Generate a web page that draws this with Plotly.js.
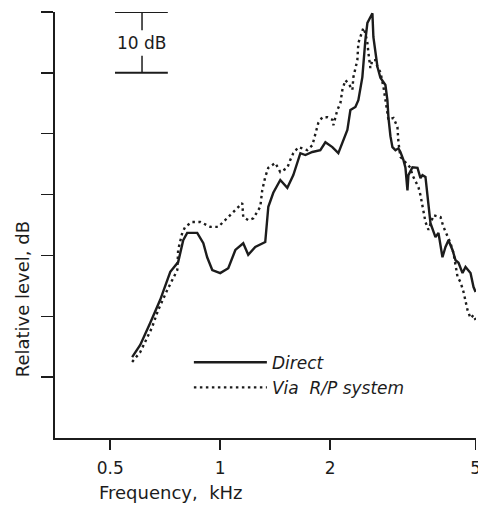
<!DOCTYPE html>
<html>
<head>
<meta charset="utf-8">
<script src="https://cdn.plot.ly/plotly-3.0.1.min.js"></script>
<style>html,body{margin:0;padding:0;background:#fff;}#chart{width:478px;height:507px;}</style>
</head>
<body>
<div id="chart"></div>
<script>
// Frequency (kHz) and relative level (dB)
const directFreq = [0.574,0.604,0.643,0.685,0.730,0.767,0.792,0.812,0.865,0.899,0.921,0.951,1.000,1.052,1.100,1.156,1.193,1.247,1.328,1.354,1.397,1.460,1.526,1.585,1.657,1.710,1.787,1.879,1.940,2.027,2.105,2.228,2.271,2.344,2.388,2.449,2.496,2.528,2.609,2.625,2.693,2.744,2.832,2.868,2.886,2.923,2.960,3.017,3.074,3.113,3.172,3.213,3.254,3.274,3.358,3.466,3.532,3.577,3.645,3.692,3.715,3.762,3.882,3.956,4.057,4.135,4.214,4.322,4.405,4.489,4.604,4.692,4.842,4.934,5.0];
const directLevel = [13.3,15.3,18.9,22.7,27.3,28.9,32.5,33.7,33.7,32.0,29.7,27.6,27.1,27.9,30.9,32.0,30.1,31.4,32.2,38.0,40.3,42.4,41.1,43.2,46.8,46.5,47.0,47.3,48.6,47.8,46.8,50.6,53.9,54.4,55.5,59.3,65.4,68.2,69.8,65.9,61.0,59.2,58.0,55.5,52.7,49.6,47.8,47.3,47.6,47.0,45.7,44.4,40.7,43.2,44.5,44.4,42.7,43.2,42.9,40.4,38.3,35.3,33.0,33.7,29.7,31.4,32.5,30.9,29.2,28.8,27.1,28.1,27.1,24.8,24.0];

const viaFreq = [0.574,0.604,0.651,0.676,0.716,0.763,0.767,0.787,0.802,0.838,0.882,0.939,0.988,1.045,1.100,1.149,1.156,1.193,1.232,1.287,1.303,1.328,1.354,1.415,1.460,1.526,1.555,1.585,1.636,1.731,1.787,1.821,1.856,1.903,1.965,2.027,2.040,2.092,2.132,2.159,2.200,2.242,2.300,2.314,2.373,2.388,2.449,2.465,2.496,2.528,2.544,2.576,2.609,2.659,2.693,2.744,2.797,2.832,2.868,2.886,2.979,3.055,3.074,3.113,3.213,3.316,3.358,3.422,3.488,3.532,3.577,3.645,3.715,3.834,4.007,4.083,4.268,4.349,4.461,4.546,4.633,4.752,4.842,4.934,4.997];
const viaLevel = [12.5,14.1,18.2,21.0,24.3,27.6,30.9,33.7,34.7,35.5,35.5,34.7,34.7,36.1,37.5,38.6,36.3,35.8,36.1,38.0,40.7,42.9,44.4,45.2,43.7,44.4,45.7,46.8,47.8,47.3,48.1,49.8,51.8,52.7,52.7,52.3,51.4,53.9,55.0,57.2,58.8,58.3,57.2,59.3,62.1,64.9,66.7,67.4,66.5,64.9,63.3,60.8,62.1,62.1,61.0,60.1,57.7,55.5,53.4,52.3,52.6,51.1,48.6,46.2,45.3,44.4,43.2,42.1,41.2,39.9,38.3,35.5,34.2,36.6,36.3,34.7,32.0,30.4,26.5,25.6,24.0,21.0,19.7,20.2,19.4];

const seriesNames = ["Direct", "Via  R/P system"];
const xTickVals = [0.5, 1, 2, 5];
const xTickText = ["0.5", "1", "2", "5"];
const yTickVals = [10, 20, 30, 40, 50, 60, 70];
const scaleBarDb = [60, 70];

const ink = "#1c1c1c";
const fontFam = "DejaVu Sans, sans-serif";

const traces = [
  {x: directFreq, y: directLevel, name: seriesNames[0], type: "scatter", mode: "lines",
   line: {color: ink, width: 2.4}},
  {x: viaFreq, y: viaLevel, name: seriesNames[1], type: "scatter", mode: "lines",
   line: {color: ink, width: 2.4, dash: "2.5px,3.5px"}}
];

const layout = {
  width: 478, height: 507,
  margin: {l: 55, r: 2, t: 12, b: 69},
  paper_bgcolor: "#fff", plot_bgcolor: "#fff",
  font: {family: fontFam, size: 16, color: ink},
  showlegend: true,
  legend: {x: 0.318, y: 0.219, xanchor: "left", yanchor: "top",
    font: {family: fontFam, size: 17, style: "italic", color: ink},
    bgcolor: "rgba(0,0,0,0)", tracegroupgap: 0, itemwidth: 73},
  xaxis: {type: "log", range: [Math.log10(0.353), 0.7],
    showgrid: false, zeroline: false, showline: true, linecolor: ink, linewidth: 2,
    ticks: "outside", ticklen: 10, tickwidth: 1.5, tickcolor: ink,
    tickvals: xTickVals, ticktext: xTickText, ticklabelstandoff: 4,
    ticklabeloverflow: "allow",
    tickfont: {family: fontFam, size: 17, color: ink}},
  yaxis: {range: [0, 70], showgrid: false, zeroline: false, showline: true,
    linecolor: ink, linewidth: 2, ticks: "outside", ticklen: 12, tickwidth: 1.5,
    tickcolor: ink, tickvals: yTickVals, showticklabels: false},
  shapes: [
    {type: "line", xref: "paper", yref: "y", x0: 0.1425, x1: 0.268, y0: scaleBarDb[1], y1: scaleBarDb[1], line: {color: ink, width: 2}},
    {type: "line", xref: "paper", yref: "y", x0: 0.1425, x1: 0.268, y0: scaleBarDb[0], y1: scaleBarDb[0], line: {color: ink, width: 2}},
    {type: "line", xref: "paper", yref: "y", x0: 0.2067, x1: 0.2067, y0: scaleBarDb[1], y1: 67, line: {color: ink, width: 1.5}},
    {type: "line", xref: "paper", yref: "y", x0: 0.2067, x1: 0.2067, y0: 62.8, y1: scaleBarDb[0], line: {color: ink, width: 1.5}}
  ],
  annotations: [
    {text: "10 dB", xref: "paper", yref: "y", x: 0.2067, y: 64.9, xanchor: "center", yanchor: "middle",
     showarrow: false, font: {family: fontFam, size: 17, color: ink}},
    {text: "Relative level, dB", xref: "paper", yref: "paper", x: -0.078, y: 0.326,
     xanchor: "center", yanchor: "middle",
     textangle: -90, showarrow: false, font: {family: fontFam, size: 18, color: ink}},
    {text: "Frequency,  kHz", xref: "paper", yref: "paper", x: 0.2755, y: -0.127,
     xanchor: "center", yanchor: "middle",
     showarrow: false, font: {family: fontFam, size: 18, color: ink}}
  ]
};

Plotly.newPlot("chart", traces, layout, {staticPlot: true, displayModeBar: false});
</script>
</body>
</html>
